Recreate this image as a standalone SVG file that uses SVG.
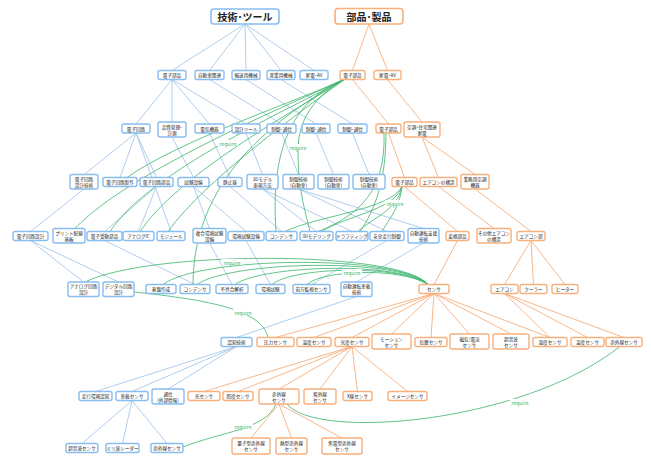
<svg xmlns="http://www.w3.org/2000/svg" width="651" height="465" viewBox="0 0 651 465">
<style>
.b rect{fill:#fff;stroke:#88bdf0;stroke-width:1.4}
.o rect{fill:#fff;stroke:#f7b07c;stroke-width:1.4}
text{font-family:"Noto Sans CJK JP","Noto Sans CJK SC",sans-serif;font-size:4.6px;fill:#222;text-anchor:middle;dominant-baseline:central}
.t rect{stroke-width:1.6}
.t text{font-size:10px;font-weight:bold}
.eb{stroke:#9ac2ea;stroke-width:0.8;fill:none}
.eo{stroke:#f5a56c;stroke-width:0.8;fill:none}
.eg{stroke:#3bb56c;stroke-width:0.8;fill:none}
.rq rect{fill:#fff}
.rq text{fill:#3bb56c;font-size:5px}
</style>
<rect width="651" height="465" fill="#fff"/>
<g id="connectors">
<g class="eb">
<path d="M245,24L172,70.5M245,24L209.5,70.5M245,24L246,70.5M245,24L281,70.5M245,24L314,70.5"/>
<path d="M172,79.5L136,124M172,79.5L172,122M172,79.5L209.5,124M172,79.5L246,124"/>
<path d="M209.5,79.5L281.5,124M246,79.5L316,124M281,79.5L352.5,124"/>
<path d="M136,133L84,174.5M136,133L120,177.5M136,133L156.5,177.5"/>
<path d="M172,137L193.5,177.5M209.5,133L230,177.5M246,133L262.5,174.5"/>
<path d="M281.5,133L298.5,174.5M316,133L333.5,174.5M352.5,133L369,174.5"/>
<path d="M84,189L30.5,231.5M156.5,186.5L104.5,231.5M156.5,186.5L138.5,231.5M136,133L171,231.5"/>
<path d="M193.5,186.5L209.5,228.5M193.5,186.5L246,231.5M230,186.5L281.5,231.5"/>
<path d="M262.5,189L316.5,231.5M262.5,189L352,231.5M298.5,189L387,231.5M298.5,189L423.5,228.5"/>
<path d="M30.5,240.5L83.5,282M30.5,240.5L118.5,282M104.5,240.5L195,284.5"/>
<path d="M209.5,243L232,284.5M246,240.5L270.5,284.5M387,240.5L311.5,284.5M423.5,243L356.5,282"/>
<path d="M356.5,296.5L236.5,337.5M236.5,346.5L95.5,391.5M236.5,346.5L132,391.5M236.5,346.5L168,389"/>
<path d="M132,400.5L82,443.5M132,400.5L122.5,443.5M132,400.5L167,443.5"/>
</g>
<g class="eo">
<path d="M369,24L352.5,70.5M369,24L387.5,70.5M352.5,79.5L388.5,124M387.5,79.5L422,122"/>
<path d="M388.5,133L404.5,177.5M422,137L438.5,177.5M422,137L475,174.5"/>
<path d="M404.5,186.5L457.5,231.5M438.5,186.5L494,228.5M475,189L531,231.5"/>
<path d="M457.5,240.5L434,284.5M531,240.5L504.5,284.5M531,240.5L533.5,284.5M531,240.5L565,284.5"/>
<path d="M434,293.5L275.5,337.5M434,293.5L314,337.5M434,293.5L352,337.5M434,293.5L391.5,334M434,293.5L431,337.5M434,293.5L469.5,334M434,293.5L511,334M434,293.5L550,337.5"/>
<path d="M504.5,293.5L550,337.5M504.5,293.5L587.5,337.5M504.5,293.5L624,337.5"/>
<path d="M352,346.5L204,391.5M352,346.5L238,391.5M352,346.5L279,389M352,346.5L320,389M352,346.5L357.5,391.5M352,346.5L407.5,391.5"/>
<path d="M279,404L251,438M279,404L291.5,438M279,404L342,438"/>
</g>
<g class="eg">
<path d="M345,79C300,100 180,140 127,177.5"/>
<path d="M345,79C300,100 130,170 75,228.5"/>
<path d="M345,79C300,104 150,170 110,231.5"/>
<path d="M345,79C300,108 180,172 140,231.5"/>
<path d="M345,79C300,112 205,180 168,231.5"/>
<path d="M345,79C290,110 193,170 193,284.5"/>
<path d="M345,79C292,100 270,150 276,231.5"/>
<path d="M345,79Q298,105 298,150C298,190 305,210 310,231.5"/>
<path d="M386,133C386,180 375,210 360,231.5"/>
<path d="M384,133C386,190 360,215 318,231.5"/>
<path d="M402,186.5C390,210 320,215 285,231.5"/>
<path d="M402,186.5C395,210 345,216 322,231.5"/>
<path d="M402,186.5C398,210 372,218 358,231.5"/>
<path d="M402,186.5C400,208 388,220 382,231.5"/>
<path d="M428,284.5C400,250 150,250 85,282"/>
<path d="M428,284.5C400,254 200,256 163,284.5"/>
<path d="M428,284.5C400,257 230,261 197,284.5"/>
<path d="M428,284.5C400,261 262,265 235,284.5"/>
<path d="M428,284.5C400,264 292,267 272,284.5"/>
<path d="M428,284.5C400,267 322,270 307,284.5"/>
<path d="M134,292C210,300 262,310 268,337.5"/>
<path d="M287,404C315,440 520,425 620,346.5"/>
<path d="M276,404C265,430 220,432 183,447"/>
</g>
<g class="rq">
<rect x="218" y="140" width="20" height="6"/><text x="228" y="143">require</text>
<rect x="288" y="144" width="20" height="6"/><text x="298" y="147">require</text>
<rect x="385" y="200" width="20" height="6"/><text x="395" y="203">require</text>
<rect x="222" y="259" width="20" height="6"/><text x="232" y="262">require</text>
<rect x="342" y="269" width="20" height="6"/><text x="352" y="272">require</text>
<rect x="233" y="309" width="20" height="6"/><text x="243" y="312">require</text>
<rect x="233" y="423" width="20" height="6"/><text x="243" y="426">require</text>
<rect x="510" y="399" width="20" height="6"/><text x="520" y="402">require</text>
</g>
</g>
<g id="T1" class="b t"><rect x="211" y="9" width="68" height="15" rx="3"/><text x="245" y="16.5">技術･ツール</text></g>
<g id="T2" class="o t"><rect x="335" y="8.5" width="68" height="15.5" rx="3"/><text x="369" y="16.3">部品･製品</text></g>
<g id="B1" class="b"><rect x="158" y="70.5" width="28" height="9" rx="2"/><text x="172" y="75">電子部品</text></g>
<g id="B2" class="b"><rect x="195" y="70.5" width="29" height="9" rx="2"/><text x="209.5" y="75">自動車関連</text></g>
<g id="B3" class="b"><rect x="232" y="70.5" width="28" height="9" rx="2"/><text x="246" y="75">輸送用機械</text></g>
<g id="B4" class="b"><rect x="267" y="70.5" width="28" height="9" rx="2"/><text x="281" y="75">産業用機械</text></g>
<g id="B5" class="b"><rect x="300" y="70.5" width="28" height="9" rx="2"/><text x="314" y="75">家電･AV</text></g>
<g id="O1" class="o"><rect x="340" y="70.5" width="25" height="9" rx="2"/><text x="352.5" y="75">電子部品</text></g>
<g id="O2" class="o"><rect x="374" y="70.5" width="27" height="9" rx="2"/><text x="387.5" y="75">家電･AV</text></g>
<g id="B6" class="b"><rect x="122" y="124" width="28" height="9" rx="2"/><text x="136" y="128.5">電子回路</text></g>
<g id="B7" class="b"><rect x="158" y="122" width="28" height="15" rx="2"/><text x="172" y="126.5">品質管理･</text><text x="172" y="132.5">計測</text></g>
<g id="B8" class="b"><rect x="195" y="124" width="29" height="9" rx="2"/><text x="209.5" y="128.5">電気機器</text></g>
<g id="B9" class="b"><rect x="232" y="124" width="28" height="9" rx="2"/><text x="246" y="128.5">設計ツール</text></g>
<g id="B10" class="b"><rect x="267" y="124" width="29" height="9" rx="2"/><text x="281.5" y="128.5">制御･通信</text></g>
<g id="B11" class="b"><rect x="302" y="124" width="28" height="9" rx="2"/><text x="316" y="128.5">制御･通信</text></g>
<g id="B12" class="b"><rect x="338" y="124" width="29" height="9" rx="2"/><text x="352.5" y="128.5">制御･通信</text></g>
<g id="O3" class="o"><rect x="376" y="124" width="25" height="9" rx="2"/><text x="388.5" y="128.5">電子部品</text></g>
<g id="O4" class="o"><rect x="404" y="122" width="36" height="15" rx="2"/><text x="422" y="126.5">空調･住宅関連</text><text x="422" y="132.5">家電</text></g>
<g id="B13" class="b"><rect x="70" y="174.5" width="28" height="14.5" rx="2"/><text x="84" y="178.8">電子回路</text><text x="84" y="184.8">設計技術</text></g>
<g id="B14" class="b"><rect x="103" y="177.5" width="34" height="9" rx="2"/><text x="120" y="182">電子回路製作</text></g>
<g id="B15" class="b"><rect x="140" y="177.5" width="33" height="9" rx="2"/><text x="156.5" y="182">電子回路部品</text></g>
<g id="B16" class="b"><rect x="178" y="177.5" width="31" height="9" rx="2"/><text x="193.5" y="182">試験設備</text></g>
<g id="B17" class="b"><rect x="218" y="177.5" width="24" height="9" rx="2"/><text x="230" y="182">静止器</text></g>
<g id="B18" class="b"><rect x="247" y="174.5" width="31" height="14.5" rx="2"/><text x="262.5" y="178.8">3Dモデル</text><text x="262.5" y="184.8">表現方法</text></g>
<g id="B19" class="b"><rect x="283" y="174.5" width="31" height="14.5" rx="2"/><text x="298.5" y="178.8">制御技術</text><text x="298.5" y="184.8">(自動車)</text></g>
<g id="B20" class="b"><rect x="318" y="174.5" width="31" height="14.5" rx="2"/><text x="333.5" y="178.8">制御技術</text><text x="333.5" y="184.8">(自動車)</text></g>
<g id="B21" class="b"><rect x="353" y="174.5" width="32" height="14.5" rx="2"/><text x="369" y="178.8">制御技術</text><text x="369" y="184.8">(自動車)</text></g>
<g id="O5" class="o"><rect x="392" y="177.5" width="25" height="9" rx="2"/><text x="404.5" y="182">電子部品</text></g>
<g id="O6" class="o"><rect x="420" y="177.5" width="37" height="9" rx="2"/><text x="438.5" y="182">エアコンの構造</text></g>
<g id="O7" class="o"><rect x="461" y="174.5" width="28" height="14.5" rx="2"/><text x="475" y="178.8">業務用空調</text><text x="475" y="184.8">機器</text></g>
<g id="B22" class="b"><rect x="13" y="231.5" width="35" height="9" rx="2"/><text x="30.5" y="236">電子回路設計</text></g>
<g id="B23" class="b"><rect x="53" y="228.5" width="32" height="14.5" rx="2"/><text x="69" y="232.8">プリント配線</text><text x="69" y="238.8">基板</text></g>
<g id="B24" class="b"><rect x="87" y="231.5" width="35" height="9" rx="2"/><text x="104.5" y="236">電子受動部品</text></g>
<g id="B25" class="b"><rect x="123" y="231.5" width="31" height="9" rx="2"/><text x="138.5" y="236">アナログIC</text></g>
<g id="B26" class="b"><rect x="157" y="231.5" width="28" height="9" rx="2"/><text x="171" y="236">モジュール</text></g>
<g id="B27" class="b"><rect x="193" y="228.5" width="33" height="14.5" rx="2"/><text x="209.5" y="232.8">複合環境試験</text><text x="209.5" y="238.8">設備</text></g>
<g id="B28" class="b"><rect x="228" y="231.5" width="36" height="9" rx="2"/><text x="246" y="236">環境試験設備</text></g>
<g id="B29" class="b"><rect x="266" y="231.5" width="31" height="9" rx="2"/><text x="281.5" y="236">コンデンサ</text></g>
<g id="B30" class="b"><rect x="300" y="231.5" width="33" height="9" rx="2"/><text x="316.5" y="236">3Dモデリング</text></g>
<g id="B31" class="b"><rect x="336" y="231.5" width="32" height="9" rx="2"/><text x="352" y="236">ドラフティング</text></g>
<g id="B32" class="b"><rect x="370" y="231.5" width="34" height="9" rx="2"/><text x="387" y="236">安全走行制御</text></g>
<g id="B33" class="b"><rect x="408" y="228.5" width="31" height="14.5" rx="2"/><text x="423.5" y="232.8">自動運転支援</text><text x="423.5" y="238.8">技術</text></g>
<g id="O8" class="o"><rect x="446" y="231.5" width="23" height="9" rx="2"/><text x="457.5" y="236">変換部品</text></g>
<g id="O9" class="o"><rect x="477" y="228.5" width="34" height="14.5" rx="2"/><text x="494" y="232.8">その他エアコン</text><text x="494" y="238.8">の構造</text></g>
<g id="O10" class="o"><rect x="517" y="231.5" width="28" height="9" rx="2"/><text x="531" y="236">エアコン部</text></g>
<g id="B34" class="b"><rect x="68" y="282" width="31" height="14.5" rx="2"/><text x="83.5" y="286.3">アナログ回路</text><text x="83.5" y="292.3">設計</text></g>
<g id="B35" class="b"><rect x="103" y="282" width="31" height="14.5" rx="2"/><text x="118.5" y="286.3">デジタル回路</text><text x="118.5" y="292.3">設計</text></g>
<g id="B36" class="b"><rect x="146" y="284.5" width="30" height="9" rx="2"/><text x="161" y="289">基盤作成</text></g>
<g id="B37" class="b"><rect x="180" y="284.5" width="30" height="9" rx="2"/><text x="195" y="289">コンデンサ</text></g>
<g id="B38" class="b"><rect x="216" y="284.5" width="32" height="9" rx="2"/><text x="232" y="289">不具合解析</text></g>
<g id="B39" class="b"><rect x="256" y="284.5" width="29" height="9" rx="2"/><text x="270.5" y="289">環境試験</text></g>
<g id="B40" class="b"><rect x="293" y="284.5" width="37" height="9" rx="2"/><text x="311.5" y="289">前方監視センサ</text></g>
<g id="B41" class="b"><rect x="341" y="282" width="31" height="14.5" rx="2"/><text x="356.5" y="286.3">自動運転車載</text><text x="356.5" y="292.3">技術</text></g>
<g id="O11" class="o"><rect x="419" y="284.5" width="30" height="9" rx="2"/><text x="434" y="289">センサ</text></g>
<g id="O12" class="o"><rect x="491" y="284.5" width="27" height="9" rx="2"/><text x="504.5" y="289">エアコン</text></g>
<g id="O13" class="o"><rect x="520" y="284.5" width="27" height="9" rx="2"/><text x="533.5" y="289">クーラー</text></g>
<g id="O14" class="o"><rect x="552" y="284.5" width="26" height="9" rx="2"/><text x="565" y="289">ヒーター</text></g>
<g id="B42" class="b"><rect x="221" y="337.5" width="31" height="9" rx="2"/><text x="236.5" y="342">認知技術</text></g>
<g id="O15" class="o"><rect x="257" y="337.5" width="37" height="9" rx="2"/><text x="275.5" y="342">圧力センサ</text></g>
<g id="O16" class="o"><rect x="297" y="337.5" width="34" height="9" rx="2"/><text x="314" y="342">温度センサ</text></g>
<g id="O17" class="o"><rect x="335" y="337.5" width="34" height="9" rx="2"/><text x="352" y="342">光度センサ</text></g>
<g id="O18" class="o"><rect x="372" y="334" width="39" height="15" rx="2"/><text x="391.5" y="338.5">モーション</text><text x="391.5" y="344.5">センサ</text></g>
<g id="O19" class="o"><rect x="415" y="337.5" width="32" height="9" rx="2"/><text x="431" y="342">位置センサ</text></g>
<g id="O20" class="o"><rect x="450" y="334" width="39" height="15" rx="2"/><text x="469.5" y="338.5">磁気/電流</text><text x="469.5" y="344.5">センサ</text></g>
<g id="O21" class="o"><rect x="493" y="334" width="36" height="15" rx="2"/><text x="511" y="338.5">超音波</text><text x="511" y="344.5">センサ</text></g>
<g id="O22" class="o"><rect x="533" y="337.5" width="34" height="9" rx="2"/><text x="550" y="342">湿度センサ</text></g>
<g id="O23" class="o"><rect x="571" y="337.5" width="33" height="9" rx="2"/><text x="587.5" y="342">温度センサ</text></g>
<g id="O24" class="o"><rect x="606" y="337.5" width="36" height="9" rx="2"/><text x="624" y="342">赤外線センサ</text></g>
<g id="B43" class="b"><rect x="79" y="391.5" width="33" height="9" rx="2"/><text x="95.5" y="396">走行環境認知</text></g>
<g id="B44" class="b"><rect x="116" y="391.5" width="32" height="9" rx="2"/><text x="132" y="396">車載センサ</text></g>
<g id="B45" class="b"><rect x="152" y="389" width="32" height="15" rx="2"/><text x="168" y="393.5">通信</text><text x="168" y="399.5">(外部情報)</text></g>
<g id="O25" class="o"><rect x="188" y="391.5" width="32" height="9" rx="2"/><text x="204" y="396">光センサ</text></g>
<g id="O26" class="o"><rect x="223" y="391.5" width="30" height="9" rx="2"/><text x="238" y="396">照度センサ</text></g>
<g id="O27" class="o"><rect x="259" y="389" width="40" height="15" rx="2"/><text x="279" y="393.5">赤外線</text><text x="279" y="399.5">センサ</text></g>
<g id="O28" class="o"><rect x="304" y="389" width="32" height="15" rx="2"/><text x="320" y="393.5">紫外線</text><text x="320" y="399.5">センサ</text></g>
<g id="O29" class="o"><rect x="343" y="391.5" width="29" height="9" rx="2"/><text x="357.5" y="396">X線センサ</text></g>
<g id="O30" class="o"><rect x="388" y="391.5" width="39" height="9" rx="2"/><text x="407.5" y="396">イメージセンサ</text></g>
<g id="B46" class="b"><rect x="66" y="443.5" width="32" height="9" rx="2"/><text x="82" y="448">超音波センサ</text></g>
<g id="B47" class="b"><rect x="106" y="443.5" width="33" height="9" rx="2"/><text x="122.5" y="448">ミリ波レーダー</text></g>
<g id="B48" class="b"><rect x="151" y="443.5" width="32" height="9" rx="2"/><text x="167" y="448">赤外線センサ</text></g>
<g id="O31" class="o"><rect x="232" y="438" width="38" height="16" rx="2"/><text x="251" y="443">量子型赤外線</text><text x="251" y="449">センサ</text></g>
<g id="O32" class="o"><rect x="276" y="438" width="31" height="16" rx="2"/><text x="291.5" y="443">熱型赤外線</text><text x="291.5" y="449">センサ</text></g>
<g id="O33" class="o"><rect x="322" y="438" width="40" height="16" rx="2"/><text x="342" y="443">焦電型赤外線</text><text x="342" y="449">センサ</text></g>
</svg>
